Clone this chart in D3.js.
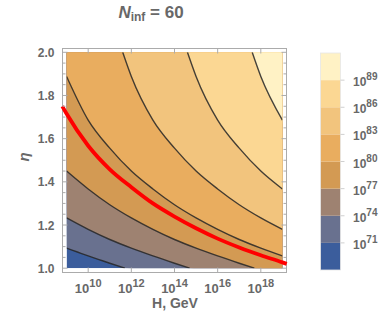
<!DOCTYPE html>
<html>
<head>
<meta charset="utf-8">
<script src="https://cdn.jsdelivr.net/npm/d3@7"></script>
<style>
  body { margin: 0; background: #fff; }
  svg text { font-family: "Liberation Sans", Arial, sans-serif; fill: #686868; font-weight: bold; }
</style>
</head>
<body>
<div id="chart"></div>
<script>
// contour levels (log10 of the quantity) and band colours, low -> high
var levels = [71, 74, 77, 80, 83, 86, 89];
var bandColors = ["#3b5d9c", "#69718f", "#9e8271", "#d39a53", "#e9ad5f", "#f2c47d", "#fbd793", "#fff2c5"];

// contour lines: [log10 H, eta]
var c71 = [[9, 1.093], [9.5, 1.075], [10, 1.057], [10.5, 1.04], [11, 1.023], [11.7, 1.0]];
var c74 = [[9, 1.233], [10, 1.18], [11, 1.133], [12, 1.093], [13, 1.057], [14, 1.023], [14.7, 1.0]];
var c77 = [[9, 1.45], [10, 1.367], [11, 1.294], [12, 1.233], [13, 1.18], [14, 1.133], [15, 1.093], [16, 1.057], [17, 1.023], [17.7, 1.0]];
var c80 = [[9, 1.888], [10, 1.686], [11, 1.556], [12, 1.45], [13, 1.367], [14, 1.294], [15, 1.233], [16, 1.18], [17, 1.133], [18, 1.093], [19, 1.057]];
var c83 = [[11.6, 2.0], [12, 1.888], [13, 1.686], [14, 1.556], [15, 1.45], [16, 1.367], [17, 1.294], [18, 1.233], [19, 1.18]];
var c86 = [[14.6, 2.0], [15, 1.888], [16, 1.686], [17, 1.556], [18, 1.45], [19, 1.367]];
var c89 = [[17.6, 2.0], [18, 1.888], [19, 1.686]];
var contours = [c71, c74, c77, c80, c83, c86, c89];

// red curve
var redCurve = [[8.8, 1.75], [9, 1.715], [10, 1.567], [11, 1.458], [12, 1.375], [13, 1.30], [14, 1.239],
                [15, 1.185], [16, 1.137], [17, 1.096], [18, 1.06], [19, 1.027], [19.2, 1.02]];

var xTicks = [10, 12, 14, 16, 18];
var yTicks = [1.0, 1.2, 1.4, 1.6, 1.8, 2.0];
var yMinor = d3.range(1.0, 2.0001, 0.05);
var legendTicks = [71, 74, 77, 80, 83, 86, 89];

var W = 390, H = 326;
var svg = d3.select("#chart").append("svg").attr("width", W).attr("height", H);

var x = d3.scaleLinear().domain([9, 19]).range([66.6, 282.4]);
var y = d3.scaleLinear().domain([1, 2]).range([268.2, 52.3]);
var frame = {l: 62.5, r: 286.5, t: 48.5, b: 272.5};

svg.append("clipPath").attr("id", "plotclip")
    .append("rect")
    .attr("x", x(9)).attr("y", y(2))
    .attr("width", x(19) - x(9)).attr("height", y(1) - y(2));

var line = d3.line()
        .x(function (d) { return x(d[0]); })
        .y(function (d) { return y(d[1]); })
        .curve(d3.curveMonotoneX);

var plot = svg.append("g").attr("clip-path", "url(#plotclip)");

// lowest band as background
plot.append("rect")
    .attr("x", x(9)).attr("y", y(2))
    .attr("width", x(19) - x(9)).attr("height", y(1) - y(2))
    .attr("fill", bandColors[0]);

// each band fills the region above/right of its lower contour
contours.forEach(function (c, i) {
    var d = line(c) + "L" + x(20) + "," + y(0.9) + "L" + x(20) + "," + y(2.1) + "L" + x(8.9) + "," + y(2.1) + "Z";
    plot.append("path").attr("d", d).attr("fill", bandColors[i + 1]);
});

contours.forEach(function (c) {
    plot.append("path").attr("d", line(c))
        .attr("fill", "none")
        .attr("stroke", "#262626")
        .attr("stroke-opacity", 0.85)
        .attr("stroke-width", 1.4);
});

// frame
svg.append("rect")
    .attr("x", frame.l).attr("y", frame.t)
    .attr("width", frame.r - frame.l).attr("height", frame.b - frame.t)
    .attr("fill", "none").attr("stroke", "#ababab").attr("stroke-width", 1);

// red line on top
svg.append("path").attr("d", line(redCurve))
    .attr("fill", "none").attr("stroke", "#ff0000").attr("stroke-width", 3.8);

// ticks
var tickCol = "#ababab";
var tk = svg.append("g").attr("stroke", tickCol).attr("stroke-width", 1);
yMinor.forEach(function (v) {
    var major = Math.abs(v * 5 - Math.round(v * 5)) < 1e-6;
    var len = major ? 5 : 3;
    tk.append("line").attr("x1", frame.l).attr("x2", frame.l + len).attr("y1", y(v)).attr("y2", y(v));
    tk.append("line").attr("x1", frame.r).attr("x2", frame.r - len).attr("y1", y(v)).attr("y2", y(v));
});
xTicks.forEach(function (v) {
    tk.append("line").attr("x1", x(v)).attr("x2", x(v)).attr("y1", frame.b).attr("y2", frame.b - 5);
    tk.append("line").attr("x1", x(v)).attr("x2", x(v)).attr("y1", frame.t).attr("y2", frame.t + 5);
});

// y labels
svg.append("g").selectAll("text").data(yTicks).enter().append("text")
    .attr("x", frame.l - 8).attr("y", function (d) { return y(d) + 4.5; })
    .attr("text-anchor", "end").attr("font-size", 12)
    .text(function (d) { return d3.format(".1f")(d); });

// x labels 10^k
var xl = svg.append("g").selectAll("text").data(xTicks).enter().append("text")
    .attr("x", function (d) { return x(d); }).attr("y", 293)
    .attr("text-anchor", "middle").attr("font-size", 13);
xl.append("tspan").text("10");
xl.append("tspan").attr("dy", -6).attr("font-size", 11).text(function (d) { return d; });

// axis titles
svg.append("text").attr("x", 175).attr("y", 308).attr("text-anchor", "middle")
    .attr("font-size", 14).text("H, GeV");
svg.append("text").attr("transform", "translate(29,157) rotate(-90)")
    .attr("text-anchor", "middle").attr("font-size", 15).attr("font-style", "italic").text("η");

// title
var title = svg.append("text").attr("x", 151).attr("y", 18).attr("text-anchor", "middle").attr("font-size", 17);
title.append("tspan").attr("font-style", "italic").text("N");
title.append("tspan").attr("font-size", 12).attr("dy", 3).text("inf");
title.append("tspan").attr("dy", -3).text(" = 60");

// colour bar
var cb = {x: 320.5, w: 20, top: 53, bottom: 270};
var cy = d3.scaleLinear().domain([68, 92]).range([cb.bottom, cb.top]);
var bandEdges = [68].concat(levels).concat([92]);
svg.append("g").selectAll("rect").data(bandColors).enter().append("rect")
    .attr("x", cb.x).attr("width", cb.w)
    .attr("y", function (d, i) { return cy(bandEdges[i + 1]); })
    .attr("height", function (d, i) { return cy(bandEdges[i]) - cy(bandEdges[i + 1]); })
    .attr("fill", function (d) { return d; });
svg.append("rect").attr("x", cb.x).attr("y", cb.top).attr("width", cb.w).attr("height", cb.bottom - cb.top)
    .attr("fill", "none").attr("stroke", "#e6e6e6").attr("stroke-width", 0.8);
svg.append("g").selectAll("line").data(legendTicks).enter().append("line")
    .attr("x1", cb.x + cb.w).attr("x2", cb.x + cb.w + 4)
    .attr("y1", function (d) { return cy(d); }).attr("y2", function (d) { return cy(d); })
    .attr("stroke", "#d0d0d0");
var ll = svg.append("g").selectAll("text").data(legendTicks).enter().append("text")
    .attr("x", 353).attr("y", function (d) { return cy(d) + 6; })
    .attr("font-size", 12);
ll.append("tspan").text("10");
ll.append("tspan").attr("dy", -6).attr("font-size", 10).text(function (d) { return d; });
</script>
</body>
</html>
